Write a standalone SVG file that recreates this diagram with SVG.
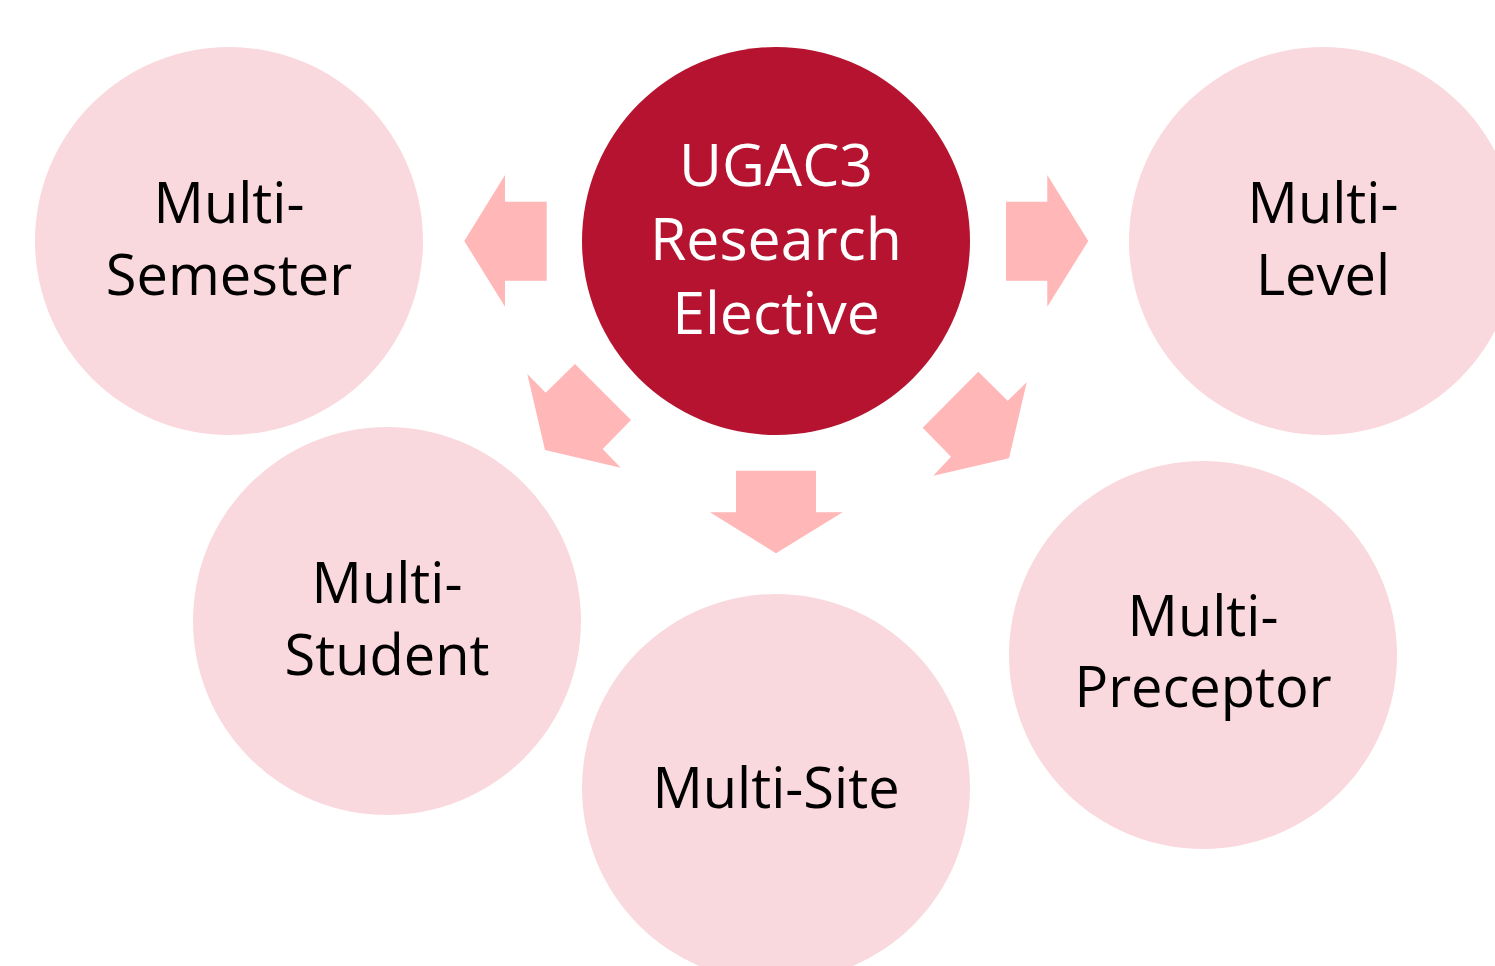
<svg xmlns="http://www.w3.org/2000/svg" width="1495" height="966" viewBox="0 0 1495 966">
<style>
.c{fill:#FAD9DE}
.m{fill:#B5132F}
.a{fill:#FFB7B7}
text{font-family:"Open Sans","Liberation Sans",sans-serif;font-size:56px;text-anchor:middle;fill:#000}
.w{fill:#fff;font-size:59px}
</style>
<rect width="1495" height="966" fill="#fff"/>
<g id="connectors">
<polygon class="a" points="546.7,201.7 505,201.7 505,175 464.3,241 505,306.7 505,280.7 546.7,280.7"/>
<polygon class="a" points="1006,201.7 1047.3,201.7 1047.3,175 1088.3,241 1047.3,306.7 1047.3,280.7 1006,280.7"/>
<polygon class="a" points="736,470.7 816,470.7 816,512.3 842.7,512.3 776,553.3 710,512.3 736,512.3"/>
<polygon class="a" points="527.3,374 545.7,392.7 575,364 631,420 602.7,449 620.7,467.7 545,450"/>
<polygon class="a" points="978.3,371.7 1007.7,400.7 1026.7,382.3 1009,458.3 933.3,475.7 951,456.7 922.7,427.7"/>
</g>
<g id="semester"><circle class="c" cx="229" cy="241" r="194"/><text x="229" y="223">Multi-</text><text x="229" y="295">Semester</text></g>
<g id="level"><circle class="c" cx="1323" cy="241" r="194"/><text x="1323" y="223">Multi-</text><text x="1323" y="295">Level</text></g>
<g id="student"><circle class="c" cx="387" cy="621" r="194"/><text x="387" y="603">Multi-</text><text x="387" y="675">Student</text></g>
<g id="site"><circle class="c" cx="776" cy="788" r="194"/><text x="776" y="808">Multi-Site</text></g>
<g id="preceptor"><circle class="c" cx="1203" cy="655" r="194"/><text x="1203" y="636">Multi-</text><text x="1203" y="707">Preceptor</text></g>
<g id="center"><circle class="m" cx="776" cy="241" r="194"/><text class="w" x="776" y="186">UGAC3</text><text class="w" x="776" y="260">Research</text><text class="w" x="776" y="334">Elective</text></g>
</svg>
